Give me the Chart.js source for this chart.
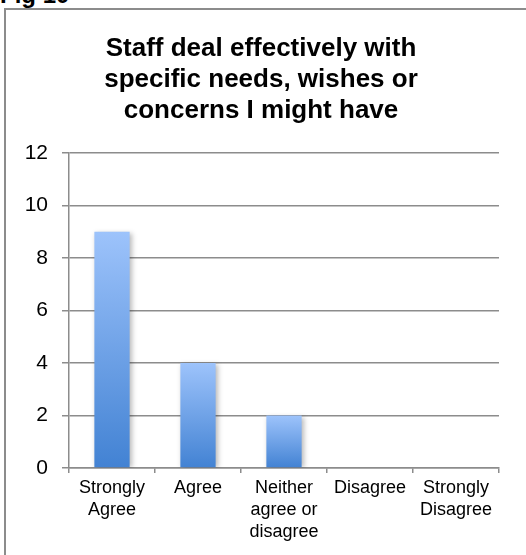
<!DOCTYPE html>
<html>
<head>
<meta charset="utf-8">
<script src="https://cdn.jsdelivr.net/npm/chart.js@4/dist/chart.umd.min.js"></script>
<style>
  html, body { margin: 0; padding: 0; background: #fff; overflow: hidden; }
  #page { position: relative; width: 526px; height: 555px; overflow: hidden; }
  #fig-label {
    position: absolute; left: 0; top: -19px;
    font: bold 24px "Liberation Sans", Arial, sans-serif; color: #000;
  }
  #frame {
    position: absolute; left: 4px; top: 8px; width: 560px; height: 600px;
    border: 2px solid #8c8c8c; box-sizing: border-box;
  }
  #chart-wrap { position: absolute; left: 0; top: 0; width: 526px; height: 555px; }
</style>
</head>
<body>
<div id="page">
  <div id="fig-label">Fig 10</div>
  <div id="frame"></div>
  <div id="chart-wrap"><canvas id="fig10-chart" width="526" height="555"></canvas></div>
</div>
<script>
// Responses per answer option
const categories = [
  ['Strongly', 'Agree'],
  'Agree',
  ['Neither', 'agree or', 'disagree'],
  'Disagree',
  ['Strongly', 'Disagree']
];
const responses = [9, 4, 2, 0, 0];
const yTicks = [0, 2, 4, 6, 8, 10, 12];

const chartTitle = [
  'Staff deal effectively with',
  'specific needs, wishes or',
  'concerns I might have'
];

const FONT = '"Liberation Sans", Arial, Helvetica, sans-serif';
const GRID = '#8c8c8c';

// vertical gradient for each bar, light on top, darker at the base
const barFill = (ctx) => {
  const chart = ctx.chart;
  const yScale = chart.scales.y;
  if (!chart.chartArea || !yScale || ctx.parsed === undefined) return '#7fb0f0';
  const top = yScale.getPixelForValue(ctx.parsed.y);
  const base = yScale.getPixelForValue(0);
  if (!isFinite(top) || base - top < 1) return '#7fb0f0';
  const g = chart.ctx.createLinearGradient(0, top, 0, base);
  g.addColorStop(0, '#9dc3fb');
  g.addColorStop(1, '#4282d3');
  return g;
};

// soft drop shadow behind the bars
const barShadow = {
  id: 'barShadow',
  beforeDatasetsDraw(chart) {
    const c = chart.ctx;
    c.save();
    c.shadowColor = 'rgba(0,0,0,0.28)';
    c.shadowBlur = 5;
    c.shadowOffsetX = 2;
    c.shadowOffsetY = 1;
  },
  afterDatasetsDraw(chart) {
    chart.ctx.restore();
  }
};

const fig10 = new Chart(document.getElementById('fig10-chart').getContext('2d'), {
  type: 'bar',
  data: {
    labels: categories,
    datasets: [{
      data: responses,
      backgroundColor: barFill,
      borderWidth: 0,
      categoryPercentage: 1,
      barPercentage: 0.41
    }]
  },
  options: {
    responsive: false,
    animation: false,
    // left padding pulls the title's centre over towards the frame's centre
    layout: { padding: { left: 23, right: 27, top: 0, bottom: 0 } },
    plugins: {
      legend: { display: false },
      tooltip: { enabled: false },
      title: {
        display: true,
        text: chartTitle,
        color: '#000',
        font: { family: FONT, size: 26, weight: 'bold', lineHeight: 31 / 26 },
        padding: { top: 33, bottom: 27 }
      }
    },
    scales: {
      x: {
        grid: {
          offset: true,
          drawOnChartArea: false,
          drawTicks: true,
          tickLength: 5,
          color: GRID,
          lineWidth: 1.5
        },
        border: { color: GRID, width: 1.5 },
        ticks: {
          color: '#000',
          padding: 4,
          maxRotation: 0,
          autoSkip: false,
          font: { family: FONT, size: 18, lineHeight: 22 / 18 }
        },
        afterFit(scale) { scale.height = 87; }
      },
      y: {
        min: 0,
        max: 12,
        afterBuildTicks(scale) { scale.ticks = yTicks.map(v => ({ value: v })); },
        grid: {
          color: GRID,
          lineWidth: 1.5,
          tickLength: 7
        },
        border: { color: GRID, width: 1.5 },
        ticks: {
          color: '#000',
          padding: 14,
          font: { family: FONT, size: 21 }
        },
        afterFit(scale) { scale.width = 46; }
      }
    }
  },
  plugins: [barShadow]
});
</script>
</body>
</html>
